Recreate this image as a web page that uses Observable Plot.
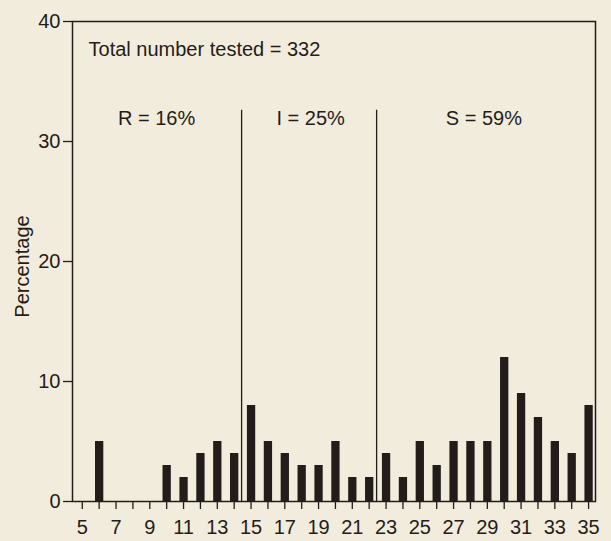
<!DOCTYPE html>
<html><head><meta charset="utf-8">
<script src="https://cdn.jsdelivr.net/npm/d3@7"></script>
<script src="https://cdn.jsdelivr.net/npm/@observablehq/plot@0.6"></script>
<style>
html,body{margin:0;padding:0;background:#f2ecdc;}
svg{background:#f2ecdc;font-family:"Liberation Sans",Arial,sans-serif;}
</style></head>
<body><div id="chart"></div>
<script>
const zones = [6,7,8,9,10,11,12,13,14,15,16,17,18,19,20,21,22,23,24,25,26,27,28,29,30,31,32,33,34,35];
const percentages = [5,0,0,0,3,2,4,5,4,8,5,4,3,3,5,2,2,4,2,5,3,5,5,5,12,9,7,5,4,8];
const xTicks = d3.range(5,36);
const xLabels = [5,7,9,11,13,15,17,19,21,23,25,27,29,31,33,35];
const yTicks = [0,10,20,30,40];
const dividers = [14.44, 22.44];
const categoryLabels = ["R = 16%","I = 25%","S = 59%"];
const categoryX = [9.4, 18.53, 28.8];
const totalLabel = "Total number tested = 332";
const yLabel = "Percentage";

const data = zones.map((z,i)=>({zone:z, pct:percentages[i]})).filter(d=>d.pct>0);
const ink = "#221d1a";

const plot = Plot.plot({
  width: 611, height: 541,
  marginLeft: 72, marginTop: 21, marginBottom: 40, marginRight: 16,
  style: {background:"#f2ecdc", fontFamily:"Liberation Sans, Arial, sans-serif", fontSize:"20px", color:ink},
  x: {domain:[4.42,35.41], label:null},
  y: {domain:[0,40], label:null},
  marks: [
    Plot.frame({stroke: ink, strokeWidth: 1.5}),
    Plot.ruleX(data, {x:"zone", y1:0, y2:"pct", stroke: ink, strokeWidth: 8.3}),
    Plot.ruleX(dividers, {x: d=>d, y1:0, y2:32.6, stroke: ink, strokeWidth:1.3}),
    Plot.text(categoryLabels, {x:(d,i)=>categoryX[i], y:31.94, text:d=>d, fontSize:20, fill:ink, lineAnchor:"middle"}),
    Plot.text([totalLabel], {x:5.37, y:37.65, text:d=>d, textAnchor:"start", fontSize:20, fill:ink, lineAnchor:"middle"}),
    Plot.text([yLabel], {frameAnchor:"left", dx:-50, dy:5, rotate:-90, text:d=>d, textAnchor:"middle", fontSize:20, fill:ink, lineAnchor:"middle"}),
    Plot.axisX({ticks: xTicks, tickSize:8, tickFormat: d => xLabels.includes(d) ? String(d) : "", label:null, fontSize:20, tickPadding:10, stroke:ink, fill:ink, strokeWidth:1.3}),
    Plot.axisY({ticks: yTicks, tickSize:9, label:null, fontSize:20, tickPadding:3, stroke:ink, fill:ink, strokeWidth:1.3})
  ]
});
document.getElementById("chart").appendChild(plot);
</script></body></html>
